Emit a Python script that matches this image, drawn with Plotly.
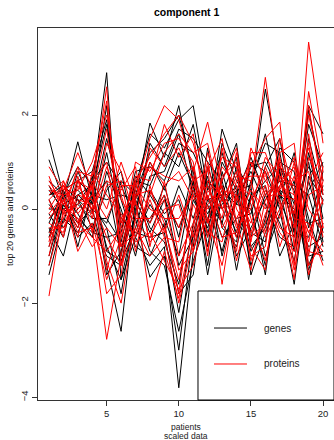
import plotly.graph_objects as go

patients = list(range(1, 21))

genes = [
    [1.50, 0.30, 0.90, 0.50, 2.90, -1.50, -0.60, -1.20, -0.80, -3.80, -0.90, 0.20, -0.30, -0.80, 0.30, 2.55, 0.80, -0.50, 2.20, 1.60],
    [1.05, 0.20, 1.43, 0.20, 2.20, -0.80, -0.20, -1.45, -1.00, -3.00, -0.50, 0.60, 0.20, -0.50, 0.60, 1.40, 1.20, -0.30, 1.80, 0.90],
    [0.30, 0.40, 0.60, 0.80, 1.90, -0.40, 0.10, -0.90, -1.20, -2.60, -1.10, -0.20, 0.40, 0.10, 0.90, 1.00, 0.40, -0.90, 1.50, 0.30],
    [-0.20, 0.10, 0.30, 0.50, 1.80, -0.20, -0.50, -0.60, -0.50, -2.20, -0.30, 0.30, -0.60, -0.20, -0.10, 0.90, 1.50, -0.20, 2.10, 0.60],
    [0.10, -0.30, 0.80, 0.10, 1.50, 0.20, -0.80, -1.00, -0.30, -1.80, -1.40, 0.90, 0.00, 0.40, 0.50, 1.60, 0.20, -0.60, 1.20, -0.20],
    [-0.50, 0.30, 0.20, -0.10, 1.20, -0.30, 0.40, -0.40, -0.70, -1.60, 0.20, -0.40, 0.60, -0.60, 0.20, 0.60, 0.90, 0.10, 0.90, 0.40],
    [0.40, 0.00, 0.10, 0.60, 1.00, 0.50, -0.20, -0.20, 0.30, -1.20, -0.60, 0.10, -0.90, 0.30, 1.10, 0.30, -0.30, -1.10, 0.60, -0.50],
    [-1.40, -0.20, -0.50, 0.20, 0.60, -1.00, 0.70, 0.30, -0.20, -1.00, 0.60, -1.40, 0.30, -1.00, -0.40, 0.20, 0.60, 0.50, 0.30, -0.80],
    [-1.00, 0.10, -0.30, 0.00, -1.20, -2.60, 0.20, 1.83, 1.10, 2.20, 0.60, -0.30, 1.70, 0.80, -0.50, -0.70, 1.00, 0.80, -1.00, -0.90],
    [-0.80, 0.20, -0.60, -0.30, -1.00, -1.20, 0.50, 1.60, 1.30, 1.90, 2.20, 0.40, 1.20, 0.10, 0.00, -1.20, 0.40, 0.20, -1.30, -0.30],
    [0.20, -0.40, 0.00, 0.30, -0.80, -1.50, -0.10, 1.40, 0.90, 1.70, 1.50, 1.00, 0.60, 1.40, -0.80, -0.40, 0.80, -0.50, -0.60, 0.50],
    [-0.30, 0.40, -0.80, 0.40, -1.40, -0.90, 0.30, 1.20, 1.50, 2.00, 0.80, -0.80, 1.00, 0.40, -1.20, -0.20, 1.30, 1.00, -0.20, -1.10],
    [0.00, 0.00, -0.20, -0.50, -0.60, -0.50, 0.80, 0.90, 0.60, 1.40, 1.20, 0.50, -0.30, 0.90, 0.40, -1.00, -0.10, 0.60, -1.50, 0.20],
    [-0.60, 0.30, 0.40, 0.10, -0.40, -1.80, 0.00, 1.00, 0.40, 1.20, 0.50, -1.20, 0.80, -0.30, -0.60, 0.30, 0.60, -0.10, -0.80, -0.60],
    [0.50, -0.10, 0.10, -0.20, -0.20, -0.70, 0.60, 0.50, 1.20, 0.90, 1.80, 0.20, 0.30, 1.10, -1.40, -0.50, 0.20, 1.20, -0.40, 0.80],
    [-1.20, 0.10, -0.40, 0.70, -0.90, -1.10, -0.40, 0.70, 0.80, 1.60, 0.30, -0.60, 1.40, 0.60, 0.10, -1.40, 0.90, 0.40, -1.20, -0.40],
    [0.30, 0.50, 0.20, -0.40, 0.40, 0.80, -0.60, 0.10, -0.40, 0.50, -0.20, 0.70, -1.00, 0.20, 0.80, 0.10, -0.60, -0.80, 0.40, 1.00],
    [-0.10, -0.60, 0.60, 0.30, 0.20, 0.30, 0.20, -0.50, 0.20, -0.40, 0.40, -0.10, 0.50, -1.30, 0.30, 0.50, -1.00, -0.30, 1.00, -0.70],
    [0.60, 0.30, -0.10, -0.60, 0.80, 0.00, -1.00, 0.40, -0.10, 0.20, -0.80, 1.30, -0.40, -0.70, 1.00, 0.80, 0.00, -1.60, 0.70, 0.20],
    [-0.40, -1.00, 0.30, 0.00, -0.30, 0.60, 0.30, -0.30, 0.50, -0.60, 0.90, -0.50, 0.10, 0.50, -0.90, -0.30, 0.30, 0.00, -0.30, -0.20],
]

proteins = [
    [0.90, 0.40, 1.20, 0.40, 2.60, -1.20, -0.40, -1.00, -0.60, -2.00, -0.70, 0.40, 0.00, -0.60, 0.50, 2.80, 0.60, -0.40, 3.55, 1.40],
    [0.50, 0.10, 0.80, 0.70, 2.30, -0.60, 0.20, -1.94, -0.90, -1.90, -0.40, 1.00, -0.40, 0.20, 0.90, 1.50, 1.85, -0.80, 2.50, 0.80],
    [-0.10, 0.30, 0.40, 1.00, 2.00, 0.30, -0.70, -0.50, -1.10, -1.70, -1.20, 0.10, 0.50, -0.40, 0.00, 1.10, 0.70, -0.10, 2.20, 0.30],
    [0.20, 0.50, 0.00, 0.30, 1.70, -0.30, 0.60, -0.70, -0.40, -1.50, 0.10, -0.50, -0.70, 0.60, 0.70, 0.70, 1.00, -1.20, 1.60, -0.40],
    [-0.60, -0.20, 0.60, -0.20, 1.40, 0.80, -0.20, -0.20, 0.20, -1.30, -0.90, 0.60, 0.30, -0.90, 1.20, 1.20, 0.30, 0.20, 1.30, 0.10],
    [0.30, 0.60, -0.30, 0.50, 1.00, -0.80, 0.30, 0.40, -0.30, -1.80, 0.40, -0.20, -1.20, 0.30, -0.30, 0.50, -0.40, -0.60, 2.00, 0.60],
    [-0.30, -0.50, 0.50, 0.00, 0.60, 0.40, 0.90, -0.80, 0.60, -1.00, -0.30, 1.20, 0.20, -0.20, 0.40, 0.00, 0.90, 0.60, 0.80, -0.60],
    [-1.85, 0.00, -0.60, 0.80, 0.30, -0.10, -0.60, 0.20, -0.60, -0.70, 0.70, -0.90, 0.70, 1.00, -0.70, 0.90, 0.10, -1.50, 1.10, 0.40],
    [-0.80, 0.20, -0.50, -0.40, -2.77, -1.00, 0.40, 1.50, 2.20, 1.90, 0.80, 1.85, 0.40, 0.30, -1.00, -0.80, 1.20, 1.40, -1.20, -0.70],
    [-0.50, -0.30, 0.20, 0.10, -1.80, -1.40, 0.60, 1.10, 1.60, 2.00, 1.40, 0.20, 1.10, 0.90, -0.20, -1.10, 0.50, 0.90, -0.90, -1.00],
    [0.40, 0.30, -0.90, -0.30, -1.50, -0.60, 1.00, 0.80, 1.40, 1.50, 1.00, -0.60, 0.60, 1.30, -0.60, -0.30, 1.50, 0.30, -0.50, 0.20],
    [-1.20, -0.10, 0.10, 0.50, -1.10, -2.00, -0.20, 1.30, 0.90, 1.30, 0.60, 0.80, 1.50, -0.30, -1.30, 0.20, 0.40, 1.10, -1.40, -0.30],
    [0.00, 0.50, -0.30, -0.60, -0.90, -0.40, 0.70, 0.60, 1.80, 1.10, 1.60, -0.30, 0.90, 0.50, 0.30, -0.60, 0.00, 0.70, -0.70, 0.60],
    [-0.40, -0.40, 0.30, 0.20, -0.60, -1.20, 0.20, 1.00, 0.50, 0.80, 0.20, 0.50, -0.20, 1.20, -0.80, -1.30, 1.10, -0.20, -0.30, -1.20],
    [0.60, 0.10, -0.20, -0.80, -0.40, -0.80, -0.50, 0.30, 1.20, 1.60, 1.20, 1.40, 0.00, 0.70, 0.60, -0.50, 0.70, 0.50, -1.00, 0.90],
    [-1.00, 0.40, 0.60, 0.40, -1.30, -0.20, 0.30, 0.90, 0.70, 0.60, 0.90, -1.00, 1.30, 0.00, -0.50, 0.40, -0.20, 1.00, 0.00, -0.50],
    [0.20, -0.60, 0.70, -0.50, 0.50, 0.60, -0.90, 0.50, -0.50, 0.30, -0.60, 0.90, -1.60, 0.40, 1.00, 0.30, -0.50, -0.90, 0.60, 1.20],
    [-0.20, 0.20, -0.40, 0.60, 0.00, 1.00, 0.10, -0.30, 0.30, -0.40, 0.50, 0.00, 0.40, -1.10, 0.20, 0.80, -0.80, 0.10, 1.40, -0.40],
    [0.70, -0.10, 0.90, -0.10, 0.90, 0.20, -0.30, -0.60, 0.00, 0.10, -0.90, 0.30, -0.60, -0.50, 1.30, 0.60, 0.20, -1.30, 0.30, 0.50],
    [-0.70, 0.60, -0.10, 0.30, -0.20, 0.50, 0.50, 0.00, -0.20, -0.20, 0.30, -0.30, 0.20, 0.80, -1.10, -0.10, 0.50, 0.30, -0.50, -0.90],
]

x_ticks = [5, 10, 15, 20]
y_ticks = [-4, -2, 0, 2]
legend_labels = ["genes", "proteins"]
colors = ["black", "red"]

FONT = "Liberation Sans, Arial, sans-serif"

fig = go.Figure()
for row in genes:
    fig.add_trace(go.Scatter(x=patients, y=row, mode="lines",
                             line=dict(color=colors[0], width=1), showlegend=False, hoverinfo="skip"))
for row in proteins:
    fig.add_trace(go.Scatter(x=patients, y=row, mode="lines",
                             line=dict(color=colors[1], width=1), showlegend=False, hoverinfo="skip"))

fig.update_layout(
    width=334, height=440,
    margin=dict(l=38, r=0, t=28, b=40),
    plot_bgcolor="white", paper_bgcolor="white",
    font=dict(family=FONT, size=9, color="#222"),
    showlegend=False,
)
fig.update_xaxes(range=[0.24, 20.76], tickvals=x_ticks, ticktext=[str(v) for v in x_ticks],
                 ticks="outside", ticklen=5, tickcolor="#333", showgrid=False, zeroline=False,
                 showline=True, linecolor="#333", linewidth=1, mirror=True,
                 tickfont=dict(size=9.5, family=FONT, color="#222"))
fig.update_yaxes(range=[-4.06, 3.85], tickvals=y_ticks, ticktext=[str(v).replace("-", "\u2212") for v in y_ticks],
                 ticks="outside", ticklen=5, tickcolor="#333", showgrid=False, zeroline=False,
                 showline=True, linecolor="#333", linewidth=1, mirror=True, tickangle=-90,
                 tickfont=dict(size=9.5, family=FONT, color="#222"))

# legend box drawn over the lines
fig.add_shape(type="rect", xref="paper", yref="paper", x0=0.5405, x1=1.0, y0=0.0, y1=0.293,
              fillcolor="white", line=dict(color="black", width=1), layer="above")
for lab, col, yy in zip(legend_labels, colors, [0.1935, 0.0968]):
    fig.add_shape(type="line", xref="paper", yref="paper", x0=0.5946, x1=0.706, y0=yy, y1=yy,
                  line=dict(color=col, width=1), layer="above")
    fig.add_annotation(xref="paper", yref="paper", x=0.758, y=yy, text=lab, showarrow=False,
                       xanchor="left", yanchor="middle", font=dict(size=10, family=FONT, color="#222"))

# titles
fig.add_annotation(xref="paper", yref="paper", x=0.5, y=1, yshift=16, text="<b>component 1</b>",
                   showarrow=False, xanchor="center", yanchor="middle",
                   font=dict(size=10.5, family=FONT, color="black"))
fig.add_annotation(xref="paper", yref="paper", x=0.5, y=0, yshift=-27, text="patients",
                   showarrow=False, xanchor="center", yanchor="middle", font=dict(size=8.5, family=FONT))
fig.add_annotation(xref="paper", yref="paper", x=0.5, y=0, yshift=-35.5, text="scaled data",
                   showarrow=False, xanchor="center", yanchor="middle", font=dict(size=8.5, family=FONT))
fig.add_annotation(xref="paper", yref="paper", x=0, xshift=-28, y=0.5, text="top 20 genes and proteins",
                   showarrow=False, xanchor="center", yanchor="middle", textangle=-90,
                   font=dict(size=9, family=FONT))

fig.write_html("out.html")
